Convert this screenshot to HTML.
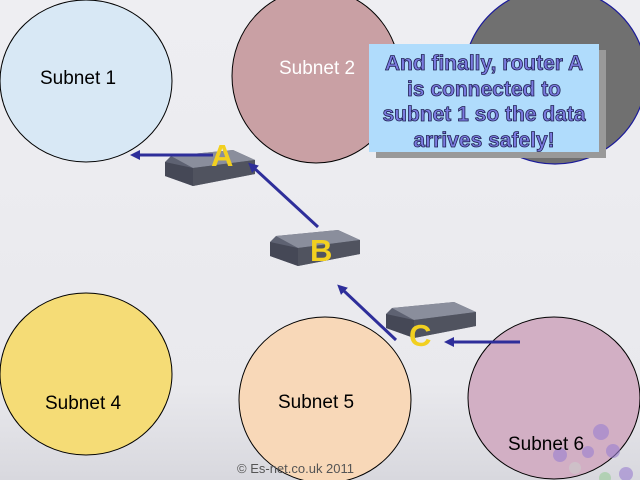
<!DOCTYPE html>
<html><head><meta charset="utf-8"><style>
html,body{margin:0;padding:0;}
body{width:640px;height:480px;overflow:hidden;font-family:"Liberation Sans",sans-serif;}
</style></head><body>
<svg width="640" height="480" viewBox="0 0 640 480" xmlns="http://www.w3.org/2000/svg">
<defs>
<linearGradient id="bg" x1="0" y1="0" x2="0" y2="1">
<stop offset="0" stop-color="#eeeef2"/><stop offset="0.8" stop-color="#e9e9ed"/><stop offset="1" stop-color="#d8d8de"/>
</linearGradient>
<marker id="ah" markerWidth="10" markerHeight="10" refX="2" refY="5" orient="auto" markerUnits="userSpaceOnUse">
<path d="M10,0 L0,5 L10,10 Z" fill="#2e2e9a" transform="rotate(180 5 5)"/>
</marker>
<g id="router">
<path d="M8,8 L70,2 L92,12 L92,26 L30,38 L2,28 L2,14 Z" fill="#5e6272"/>
<path d="M8,8 L70,2 L92,12 L30,20 Z" fill="#8a8e9c"/>
<path d="M2,14 L30,20 L30,38 L2,28 Z" fill="#454856"/>
<path d="M30,20 L92,12 L92,26 L30,38 Z" fill="#50535f"/>
</g>
</defs>
<rect width="640" height="480" fill="url(#bg)"/>
<ellipse cx="86" cy="81" rx="86" ry="81" fill="#d8e8f5" stroke="#000" stroke-width="1"/>
<ellipse cx="316" cy="76" rx="84" ry="87" fill="#c9a0a4" stroke="#000" stroke-width="1"/>
<ellipse cx="555" cy="76" rx="91" ry="88" fill="#707070" stroke="#1a1a9a" stroke-width="1.2"/>
<ellipse cx="86" cy="374" rx="86" ry="81" fill="#f5dc76" stroke="#000" stroke-width="1"/>
<ellipse cx="325" cy="400" rx="86" ry="83" fill="#f8d8b8" stroke="#000" stroke-width="1"/>
<ellipse cx="554" cy="398" rx="86" ry="81" fill="#d2afc4" stroke="#000" stroke-width="1"/>
<g fill="#9a7fd0" opacity="0.6">
<circle cx="601" cy="432" r="8"/><circle cx="613" cy="451" r="7"/><circle cx="588" cy="452" r="6"/><circle cx="626" cy="474" r="7"/><circle cx="560" cy="455" r="7"/><circle cx="575" cy="468" r="6" fill="#ccc"/><circle cx="605" cy="478" r="6" fill="#9c9"/>
</g>
<g font-size="19" fill="#000">
<text x="40" y="84">Subnet 1</text>
<text x="279" y="74" fill="#fff">Subnet 2</text>
<text x="45" y="409">Subnet 4</text>
<text x="278" y="408">Subnet 5</text>
<text x="508" y="450">Subnet 6</text>
</g>
<rect x="376" y="50" width="230" height="108" fill="#999"/>
<rect x="369" y="44" width="230" height="108" fill="#b0dcfc"/>
<g font-size="21" font-weight="bold" fill="#7b7be0" stroke="#1e1e50" stroke-width="0.8" text-anchor="middle">
<text x="484" y="70">And finally, router A</text>
<text x="484" y="96">is connected to</text>
<text x="484" y="121">subnet 1 so the data</text>
<text x="484" y="147">arrives safely!</text>
</g>
<use href="#router" x="163" y="148"/>
<use href="#router" x="268" y="228"/>
<use href="#router" x="384" y="300"/>
<g stroke="#2e2e9a" stroke-width="3" fill="none" marker-end="url(#ah)">
<line x1="213" y1="155" x2="138" y2="155"/>
<line x1="318" y1="227" x2="254" y2="168"/>
<line x1="396" y1="340" x2="343" y2="290"/>
<line x1="520" y1="342" x2="452" y2="342"/>
</g>
<g font-size="31" font-weight="bold" fill="#f2d020">
<text x="211" y="166">A</text>
<text x="310" y="261">B</text>
<text x="409" y="346">C</text>
</g>
<text x="237" y="473" font-size="13" fill="#555">© Es-net.co.uk 2011</text>
</svg>
</body></html>
